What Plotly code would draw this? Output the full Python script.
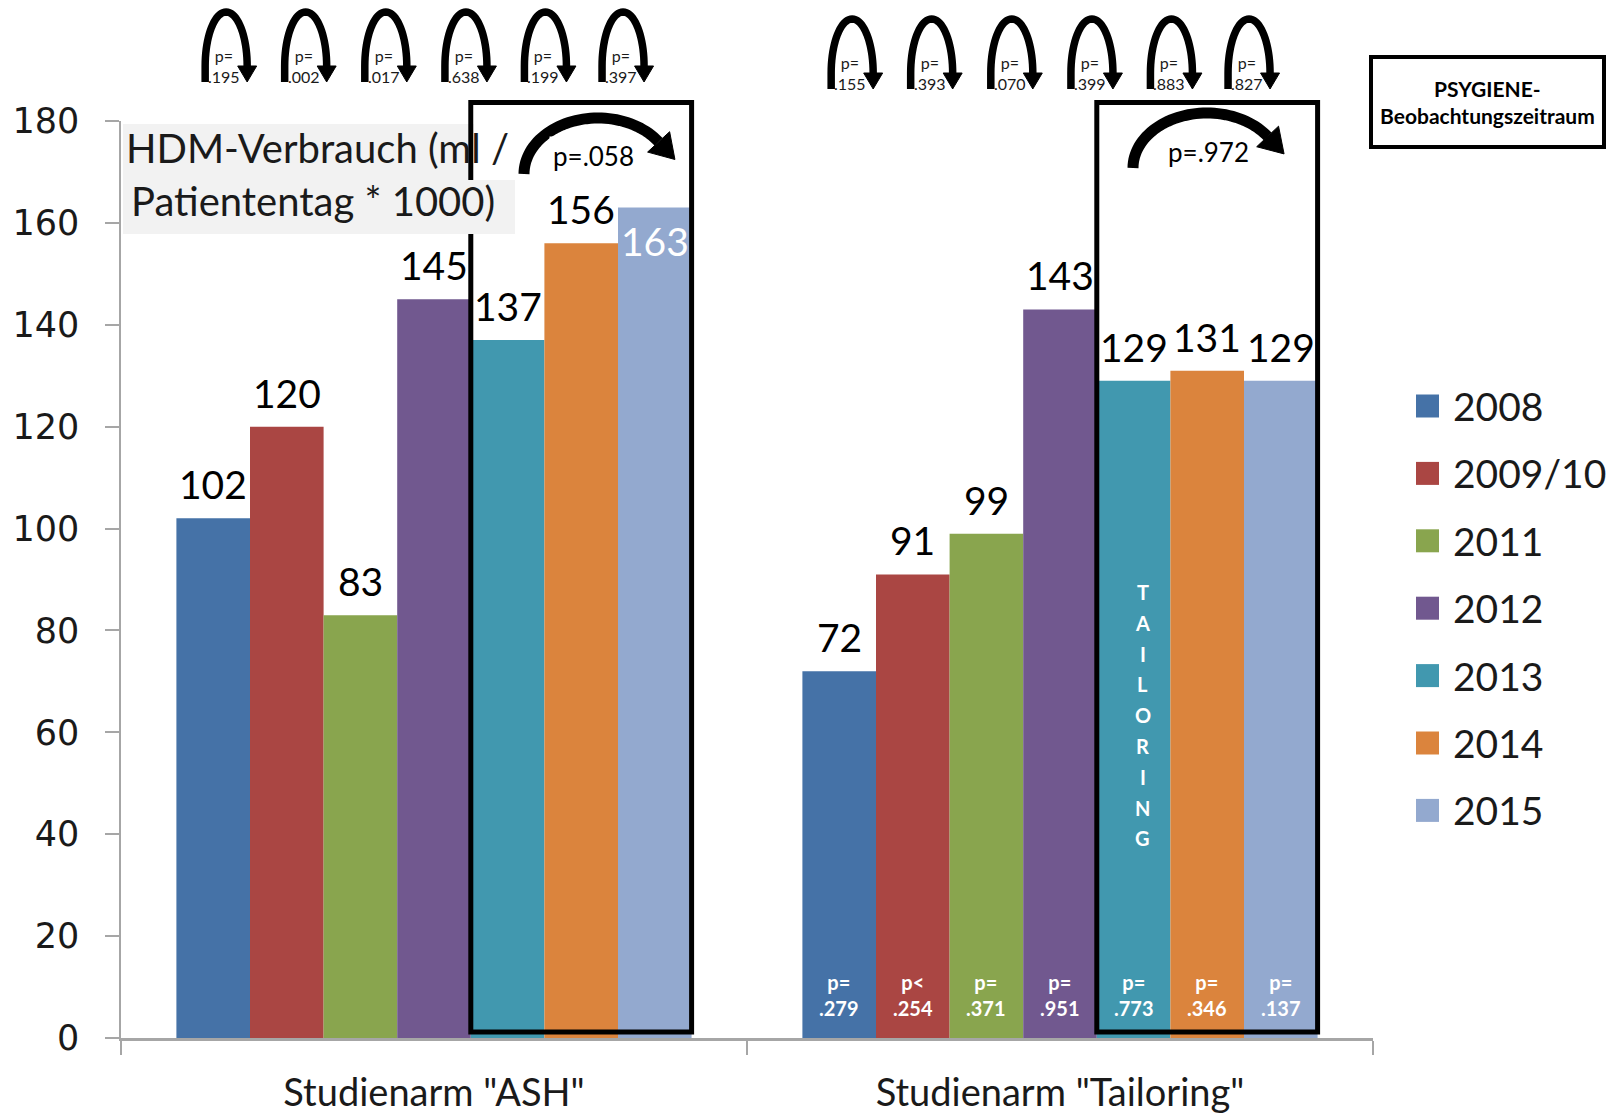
import math
import plotly.graph_objects as go

# ---- data -----------------------------------------------------------------
categories = ['Studienarm "ASH"', 'Studienarm "Tailoring"']
years = ["2008", "2009/10", "2011", "2012", "2013", "2014", "2015"]
colors = ["#4572A7", "#AA4643", "#89A54E", "#71588F", "#4198AF", "#DB843D", "#93A9CF"]
ash = [102, 120, 83, 145, 137, 156, 163]
tailoring = [72, 91, 99, 143, 129, 131, 129]

# year-to-year tests above each arm
p_steps_ash = [".195", ".002", ".017", ".638", ".199", ".397"]
p_steps_tail = [".155", ".393", ".070", ".399", ".883", ".827"]
# ASH vs. Tailoring per year
p_arm_sign = ["p=", "p<", "p=", "p=", "p=", "p=", "p="]
p_arm = [".279", ".254", ".371", ".951", ".773", ".346", ".137"]
# trend test across the observation window (2013-2015)
p_window = ["p=.058", "p=.972"]

title_lines = ["HDM-Verbrauch (ml /", "Patiententag * 1000)"]
window_label = ["PSYGIENE-", "Beobachtungszeitraum"]
tailoring_word = "TAILORING"

# ---- layout geometry --------------------------------------------------------
W, H = 1609, 1116
ML, MR, MT, MB = 121, 236, 121, 78
PW, PH = W - ML - MR, H - MT - MB
YMAX = 180
BARGAP = 0.177
NB = len(years)
BW = (1 - BARGAP) / NB
FONT = "Lato"
INK = "#1a1a1a"
AXIS = "#A6A6A6"


def bar_x(c, k):
    """Centre of bar k inside category c (category units)."""
    return c - (1 - BARGAP) / 2 + BW * (k + 0.5)


def cat_to_px(xc):
    return ML + (xc + 0.5) * PW / 2


def fx(px):
    return (px - ML) / PW


def fy(py):
    return (H - MB - py) / PH


def label(px, py, text, size, color=INK, xanchor="center", bold=False, **kw):
    """Text placed by pixel position, anchored explicitly."""
    if bold:
        text = "<br>".join(f"<b>{t}</b>" for t in text.split("<br>"))
    d = dict(x=fx(px), y=fy(py), xref="paper", yref="paper",
             xanchor=xanchor, yanchor="middle", text=text, showarrow=False,
             font=dict(family=FONT, size=size, color=color))
    d.update(kw)
    return d


def path_from(points, close=False):
    s = "M " + " L ".join(f"{fx(x):.5f},{fy(y):.5f}" for x, y in points)
    return s + (" Z" if close else "")


def arch(cx, top, bottom, rx, head=16, head_w=19):
    """Upright arch with a down-pointing arrowhead on its right leg (pixels)."""
    yc = bottom - head
    pts = [(cx - rx, bottom)]
    for i in range(0, 41):
        t = math.pi - math.pi * i / 40
        pts.append((cx + rx * math.cos(t), yc - (yc - top) * math.sin(t)))
    tri = [(cx + rx - head_w / 2, yc), (cx + rx + head_w / 2, yc), (cx + rx, bottom)]
    return path_from(pts), path_from(tri, close=True)


def sweep(cx, cy, rx, ry, t_end=35, head=24, head_w=30):
    """Flat left-to-right curved arrow over the top of an ellipse (pixels)."""
    pts = []
    n = 50
    for i in range(n + 1):
        t = math.radians(180 - (180 - t_end) * i / n)
        pts.append((cx + rx * math.cos(t), cy - ry * math.sin(t)))
    t = math.radians(t_end)
    dx, dy = rx * math.sin(t), ry * math.cos(t)
    L = math.hypot(dx, dy)
    ux, uy = dx / L, dy / L
    ex, ey = pts[-1]
    nx, ny = -uy, ux
    tri = [(ex + nx * head_w / 2, ey + ny * head_w / 2),
           (ex - nx * head_w / 2, ey - ny * head_w / 2),
           (ex + ux * head, ey + uy * head)]
    return path_from(pts), path_from(tri, close=True)


fig = go.Figure()
for k, yr in enumerate(years):
    fig.add_trace(go.Bar(
        x=categories, y=[ash[k], tailoring[k]], name=yr,
        marker=dict(color=colors[k], line=dict(width=0)),
        showlegend=False, hoverinfo="x+y+name",
    ))

shapes = []
annotations = []

# value labels above (or, for the tallest bar, inside) each bar
for c, series in enumerate([ash, tailoring]):
    for k, v in enumerate(series):
        inside = (c == 0 and k == NB - 1)
        annotations.append(dict(
            x=bar_x(c, k), y=v, xref="x", yref="y", text=str(v),
            xanchor="center", yanchor="middle",
            showarrow=False, yshift=-33 if inside else 34,
            font=dict(family=FONT, size=39, color="white" if inside else "black"),
        ))

# ASH vs Tailoring p-values at the foot of the Tailoring bars
for k in range(NB):
    annotations.append(dict(
        x=bar_x(1, k), y=0, xref="x", yref="y",
        xanchor="center", yanchor="bottom", yshift=16,
        text=f"<b>{p_arm_sign[k]}<br>{p_arm[k]}</b>", showarrow=False,
        font=dict(family=FONT, size=20, color="white"),
    ))

# vertical TAILORING marker on the 2013 Tailoring bar
t_px = cat_to_px(bar_x(1, 4)) + 9
for i, ch in enumerate(tailoring_word):
    annotations.append(label(t_px, 592 + i * 30.8, ch, 20, color="white", bold=True))

# y-axis title box (grey panel)
shapes.append(dict(type="rect", xref="paper", yref="paper",
                   x0=fx(123), x1=fx(515), y0=fy(234), y1=fy(124),
                   fillcolor="#F2F2F2", line=dict(width=0), layer="above"))

# observation window frames around 2013-2015
for c in range(2):
    x0 = cat_to_px(bar_x(c, 4) - BW / 2)
    x1 = cat_to_px(c + (1 - BARGAP) / 2)
    shapes.append(dict(type="rect", xref="paper", yref="paper",
                       x0=fx(x0), x1=fx(x1), y0=fy(1032), y1=fy(102.5),
                       line=dict(color="black", width=5), fillcolor="rgba(0,0,0,0)",
                       layer="above"))
    if c == 0:
        # the frame's interior stays white beside the title's first line,
        # while the grey panel covers the frame edge on the second line
        shapes.append(dict(type="rect", xref="paper", yref="paper",
                           x0=fx(x0 + 3), x1=fx(515), y0=fy(180), y1=fy(105),
                           fillcolor="white", line=dict(width=0), layer="above"))
        shapes.append(dict(type="rect", xref="paper", yref="paper",
                           x0=fx(x0 - 3), x1=fx(515), y0=fy(234), y1=fy(180),
                           fillcolor="#F2F2F2", line=dict(width=0), layer="above"))

annotations.append(label(124, 148, title_lines[0], 40, xanchor="left"))
annotations.append(label(129, 201, title_lines[1], 40, xanchor="left"))

# curved arrows for the window trend test
for (cx, cy, rx, ry, tx, ty), ptxt in zip(
        [(598, 174, 74, 56, 593, 156), (1207, 168, 74, 55, 1208, 152)], p_window):
    stroke, head = sweep(cx, cy, rx, ry)
    shapes.append(dict(type="path", xref="paper", yref="paper", path=stroke,
                       line=dict(color="black", width=11), layer="above"))
    shapes.append(dict(type="path", xref="paper", yref="paper", path=head,
                       fillcolor="black", line=dict(color="black", width=1),
                       layer="above"))
    annotations.append(label(tx, ty, ptxt, 26, color="black",
                             bgcolor="white", borderpad=3))

# small year-to-year arches above the plot
arch_offsets = [-0.332, -0.205, -0.077, 0.051, 0.178, 0.302]
arch_rows = [(0, 12, 82, p_steps_ash), (1, 19, 89, p_steps_tail)]
for c, top, bottom, plist in arch_rows:
    for off, pv in zip(arch_offsets, plist):
        cx = cat_to_px(c + off)
        stroke, head = arch(cx, top, bottom, rx=21)
        shapes.append(dict(type="path", xref="paper", yref="paper", path=stroke,
                           line=dict(color="black", width=7.5), layer="above"))
        shapes.append(dict(type="path", xref="paper", yref="paper", path=head,
                           fillcolor="black", line=dict(color="black", width=1),
                           layer="above"))
        annotations.append(label(cx - 2, bottom - 16, f"p=<br>{pv}", 16))

# "PSYGIENE-Beobachtungszeitraum" tag
shapes.append(dict(type="rect", xref="paper", yref="paper",
                   x0=fx(1371), x1=fx(1604), y0=fy(147), y1=fy(57),
                   line=dict(color="black", width=4), fillcolor="white",
                   layer="above"))
annotations.append(label(1487.5, 102, "<br>".join(window_label), 21,
                         color="black", bold=True))

# legend: coloured squares with year labels
for i, (yr, col) in enumerate(zip(years, colors)):
    yc = 406 + i * 67.4
    shapes.append(dict(type="rect", xref="paper", yref="paper",
                       x0=fx(1416), x1=fx(1439), y0=fy(yc + 11.5), y1=fy(yc - 11.5),
                       fillcolor=col, line=dict(width=0), layer="above"))
    annotations.append(label(1451, yc, yr, 39, xanchor="left"))

fig.update_layout(
    width=W, height=H,
    margin=dict(l=ML, r=MR, t=MT, b=MB, autoexpand=False),
    paper_bgcolor="white", plot_bgcolor="white",
    barmode="group", bargap=BARGAP, bargroupgap=0,
    shapes=shapes, annotations=annotations,
    showlegend=False,
    xaxis=dict(
        type="category", range=[-0.5, 1.5],
        showline=True, linecolor=AXIS, linewidth=2.5,
        ticks="outside", tickson="boundaries", ticklen=14,
        tickcolor=AXIS, tickwidth=1.5,
        tickfont=dict(family=FONT, size=38, color=INK),
        ticklabelstandoff=20, automargin=False,
        showgrid=False, zeroline=False, fixedrange=True,
    ),
    yaxis=dict(
        range=[0, YMAX], dtick=20, tick0=0,
        showline=True, linecolor=AXIS, linewidth=1.5,
        ticks="outside", ticklen=14, tickcolor=AXIS, tickwidth=1.5,
        tickfont=dict(family="DejaVu Sans", size=35, color=INK),
        ticklabelstandoff=19, automargin=False,
        showgrid=False, zeroline=False, fixedrange=True,
    ),
)

fig.write_html("out.html")
